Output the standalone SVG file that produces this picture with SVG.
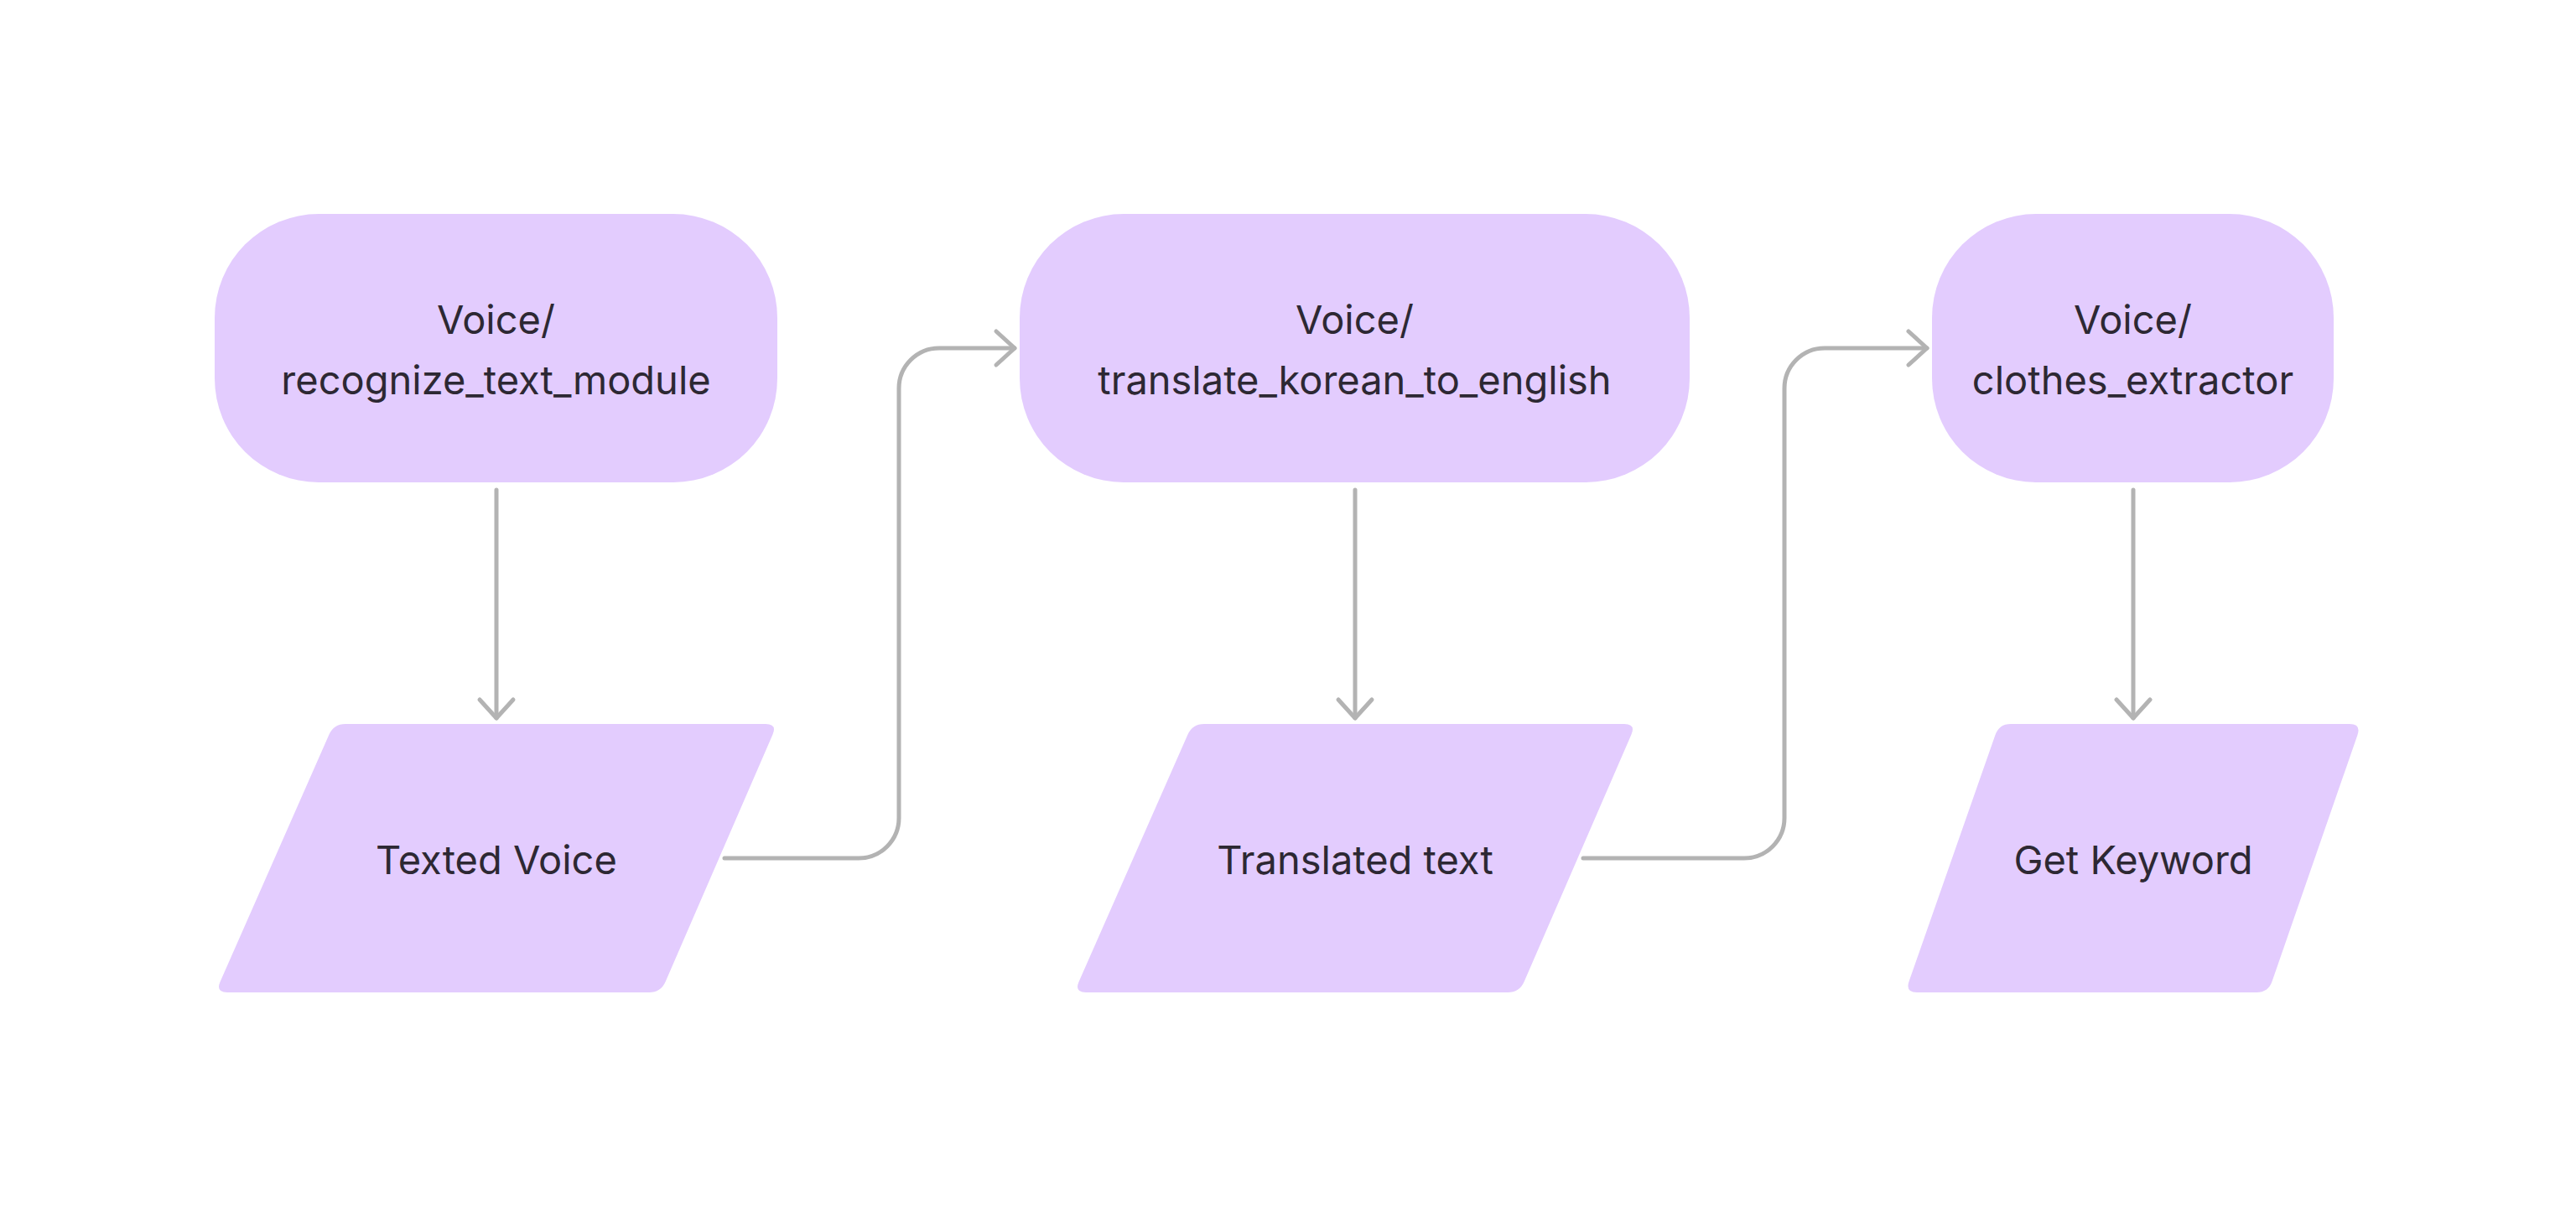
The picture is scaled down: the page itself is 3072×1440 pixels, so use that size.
<svg xmlns="http://www.w3.org/2000/svg" width="3072" height="1440" viewBox="0 0 3072 1440">
<style>
.node{fill:#E3CCFE;}
.lbl{font-family:Inter,"Liberation Sans",sans-serif;font-size:47px;fill:#2D2833;text-anchor:middle;}
.conn{fill:none;stroke:#B3B3B3;stroke-width:5;stroke-linecap:round;stroke-linejoin:round;}
</style>
<defs>
<marker id="arr" markerUnits="userSpaceOnUse" markerWidth="40" markerHeight="60" viewBox="0 0 40 60" refX="28" refY="30" orient="auto">
<path d="M6,10 L28,30 L6,50" fill="none" stroke="#B3B3B3" stroke-width="5" stroke-linecap="round" stroke-linejoin="round"/>
</marker>
</defs>
<rect width="3072" height="1440" fill="#FFFFFF"/>
<g id="connectors">
<path class="conn" d="M592,584 V856" marker-end="url(#arr)"/>
<path class="conn" d="M1616,584 V856" marker-end="url(#arr)"/>
<path class="conn" d="M2544,584 V856" marker-end="url(#arr)"/>
<path class="conn" d="M864,1023 H1024 A48,48 0 0 0 1072,975 V463 A48,48 0 0 1 1120,415 H1210" marker-end="url(#arr)"/>
<path class="conn" d="M1888,1023 H2080 A48,48 0 0 0 2128,975 V463 A48,48 0 0 1 2176,415 H2298" marker-end="url(#arr)"/>
</g>
<g id="node-recognize">
<rect class="node" x="256" y="255" width="671" height="320" rx="124" ry="124"/>
<text class="lbl" x="591.5" y="398">Voice/</text>
<text class="lbl" x="591.5" y="470">recognize_text_module</text>
</g>
<g id="node-texted-voice">
<path class="node" d="M412,863 H913 Q927,863 921.4,875.8 L793.6,1170.2 Q788,1183 774,1183 H271 Q257,1183 262.6,1170.2 L392.4,875.8 Q398,863 412,863 Z"/>
<text class="lbl" x="592" y="1042">Texted Voice</text>
</g>
<g id="node-translate">
<rect class="node" x="1216" y="255" width="799" height="320" rx="124" ry="124"/>
<text class="lbl" x="1615.5" y="398">Voice/</text>
<text class="lbl" x="1615.5" y="470">translate_korean_to_english</text>
</g>
<g id="node-translated-text">
<path class="node" d="M1436,863 H1937 Q1951,863 1945.4,875.8 L1817.6,1170.2 Q1812,1183 1798,1183 H1295 Q1281,1183 1286.6,1170.2 L1416.4,875.8 Q1422,863 1436,863 Z"/>
<text class="lbl" x="1616" y="1042">Translated text</text>
</g>
<g id="node-clothes">
<rect class="node" x="2304" y="255" width="479" height="320" rx="124" ry="124"/>
<text class="lbl" x="2543.5" y="398">Voice/</text>
<text class="lbl" x="2543.5" y="470">clothes_extractor</text>
</g>
<g id="node-get-keyword">
<path class="node" d="M2398,863 H2802 Q2816,863 2811.4,876.2 L2709.6,1169.8 Q2705,1183 2691,1183 H2286 Q2272,1183 2276.6,1169.8 L2379.4,876.2 Q2384,863 2398,863 Z"/>
<text class="lbl" x="2544" y="1042">Get Keyword</text>
</g>
</svg>
